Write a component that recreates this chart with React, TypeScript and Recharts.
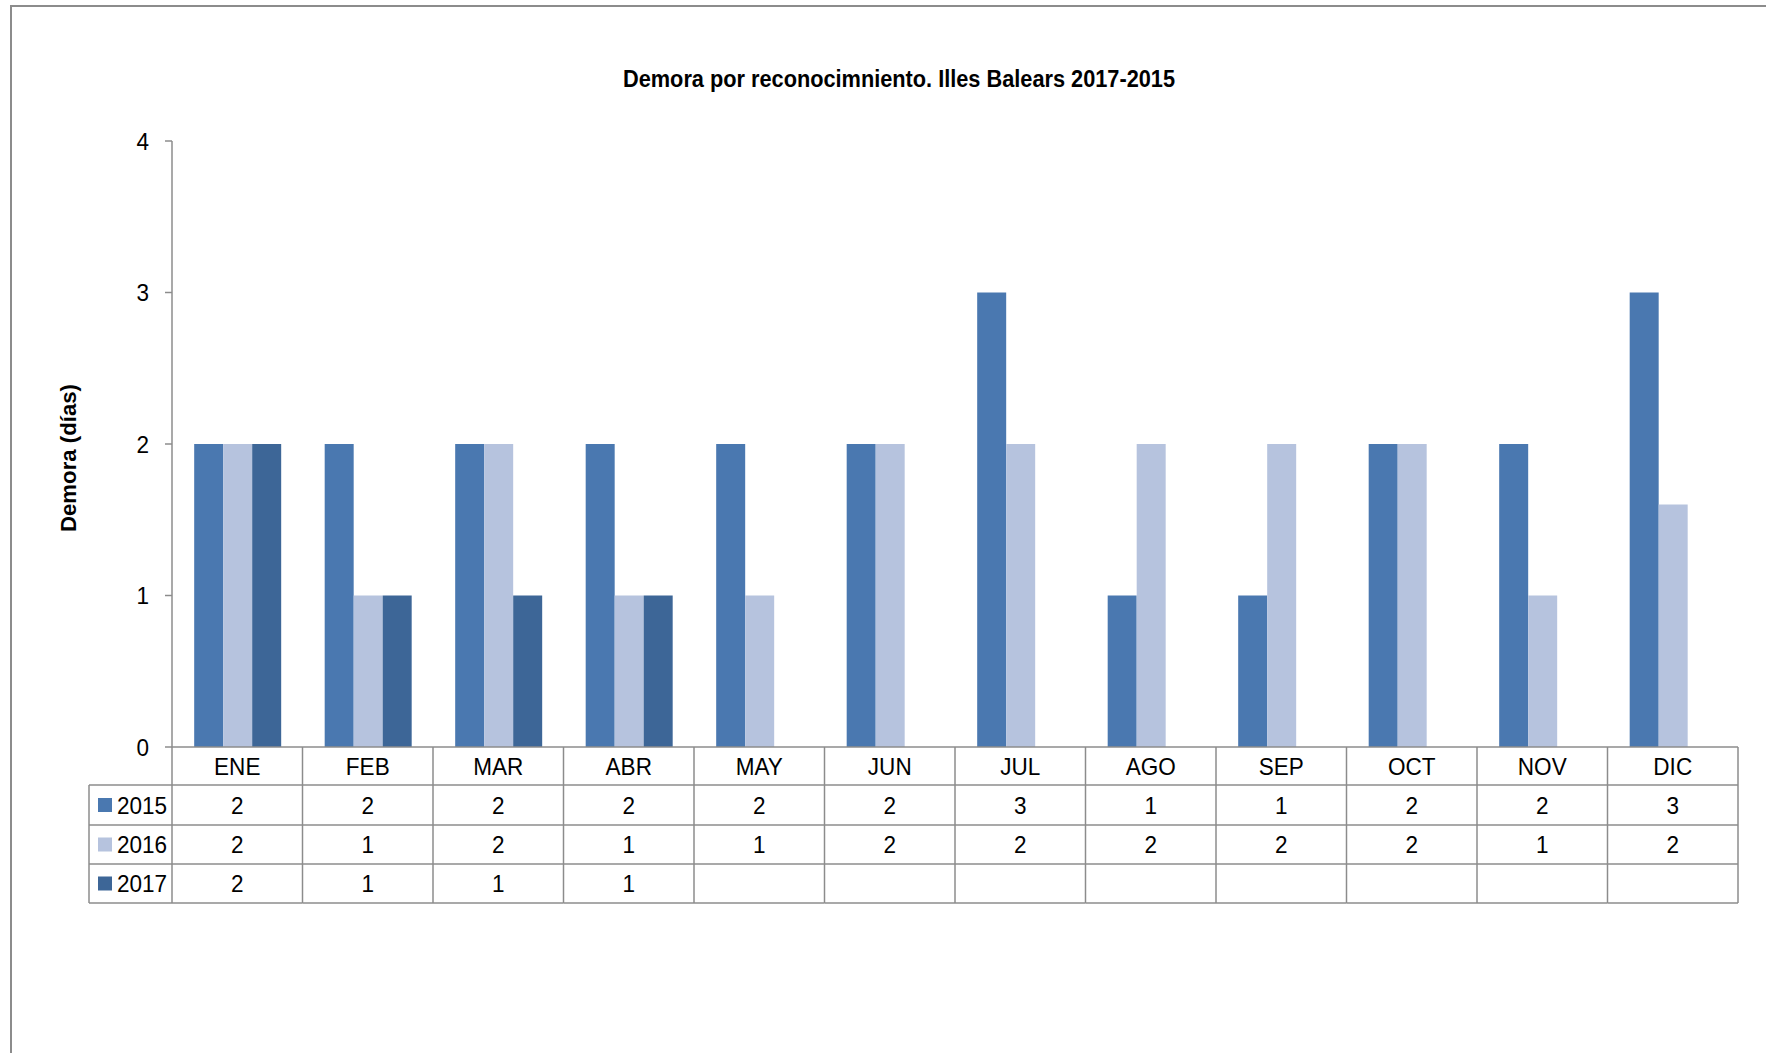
import { BarChart, Bar, XAxis, YAxis } from 'recharts'

const months = ['ENE', 'FEB', 'MAR', 'ABR', 'MAY', 'JUN', 'JUL', 'AGO', 'SEP', 'OCT', 'NOV', 'DIC']
const s2015 = [2, 2, 2, 2, 2, 2, 3, 1, 1, 2, 2, 3]
const s2016 = [2, 1, 2, 1, 1, 2, 2, 2, 2, 2, 1, 1.6]
const s2017: (number | null)[] = [2, 1, 1, 1, null, null, null, null, null, null, null, null]
const yTicks = [0, 1, 2, 3, 4]

const series = [
  { key: 'y2015', name: '2015', values: s2015, color: '#4A78B0' },
  { key: 'y2016', name: '2016', values: s2016, color: '#B6C3DE' },
  { key: 'y2017', name: '2017', values: s2017, color: '#3D6697' },
]

const data = months.map((m, i) => ({ month: m, y2015: s2015[i], y2016: s2016[i], y2017: s2017[i] }))

const W = 1766
const H = 1053
const Y_W = 60
const M = { top: 141, right: 28, bottom: 150, left: 112 }
const X_H = 156
const band = (W - M.right - M.left - Y_W) / months.length
const rowEdges = [0, 38, 78, 117, 156]
const FONT = "'Liberation Sans', Arial, sans-serif"
const LINE = '#8c8c8c'
const SX = 0.92 // narrow look

// narrow text: squeeze horizontally around its anchor
function NText({ x, y, anchor = 'middle', size = 24.5, children }: any) {
  return (
    <text transform={`translate(${x},${y}) scale(${SX},1)`} dy="0.36em" textAnchor={anchor} fontSize={size} fontFamily={FONT} fill="#000">
      {children}
    </text>
  )
}

function TableTick(props: any) {
  const { x, y, payload, index } = props
  const l = x - band / 2
  const r = x + band / 2
  const mid = (a: number, b: number) => y + (rowEdges[a] + rowEdges[b]) / 2
  return (
    <g>
      {index === 0 && (
        <g>
          <line x1={l} x2={l} y1={y} y2={y + rowEdges[4]} stroke={LINE} strokeWidth={1.5} />
          <line x1={l - 83} x2={l - 83} y1={y + rowEdges[1]} y2={y + rowEdges[4]} stroke={LINE} strokeWidth={1.5} />
          {rowEdges.slice(1).map((e, k) => (
            <line key={k} x1={l - 83} x2={l} y1={y + e} y2={y + e} stroke={LINE} strokeWidth={1.5} />
          ))}
          {series.map((s, k) => (
            <g key={s.key}>
              <rect x={l - 74} y={mid(k + 1, k + 2) - 7} width={14} height={14} fill={s.color} />
              <NText x={l - 55} y={mid(k + 1, k + 2)} anchor="start">{s.name}</NText>
            </g>
          ))}
        </g>
      )}
      <line x1={r} x2={r} y1={y} y2={y + rowEdges[4]} stroke={LINE} strokeWidth={1.5} />
      {rowEdges.slice(1).map((e, k) => (
        <line key={k} x1={l} x2={r} y1={y + e} y2={y + e} stroke={LINE} strokeWidth={1.5} />
      ))}
      <NText x={x} y={mid(0, 1)}>{payload.value}</NText>
      {series.map((s, k) => {
        const v = s.values[index]
        return v == null ? null : (
          <NText key={s.key} x={x} y={mid(k + 1, k + 2)}>{Math.round(v)}</NText>
        )
      })}
    </g>
  )
}

function YTick(props: any) {
  const { x, y, payload } = props
  return <NText x={x} y={y} anchor="end">{payload.value}</NText>
}

export default function App() {
  return (
    <div style={{ position: 'fixed', left: 0, top: 0, width: W, height: H, overflow: 'hidden', background: '#fff' }}>
      <div style={{ position: 'absolute', left: 10, top: 5, width: 2000, height: 2000, border: `2px solid ${LINE}` }} />
      <div style={{ position: 'absolute', left: 0, top: 0 }}>
        <BarChart width={W} height={H} data={data} margin={M} barGap={0} barCategoryGap="17%">
          <XAxis
            dataKey="month"
            height={X_H}
            interval={0}
            tickLine={false}
            tickSize={0}
            tickMargin={0}
            axisLine={{ stroke: LINE, strokeWidth: 1.5 }}
            tick={<TableTick />}
          />
          <YAxis
            width={Y_W}
            domain={[0, 4]}
            ticks={yTicks}
            interval={0}
            tickSize={7}
            tickMargin={16}
            axisLine={{ stroke: LINE, strokeWidth: 1.5 }}
            tickLine={{ stroke: LINE, strokeWidth: 1.5 }}
            tick={<YTick />}
          />
          {series.map(s => (
            <Bar key={s.key} dataKey={s.key} name={s.name} fill={s.color} isAnimationActive={false} />
          ))}
        </BarChart>
      </div>
      <svg width={W} height={H} style={{ position: 'absolute', left: 0, top: 0, pointerEvents: 'none' }}>
        <text x={899} y={87} textAnchor="middle" fontFamily={FONT} fontWeight="bold" fontSize={23} textLength={552} lengthAdjust="spacingAndGlyphs" fill="#000">
          Demora por reconocimniento. Illes Balears 2017-2015
        </text>
        <text transform="translate(76,458) rotate(-90)" textAnchor="middle" fontFamily={FONT} fontWeight="bold" fontSize={22} textLength={148} lengthAdjust="spacingAndGlyphs" fill="#000">
          Demora (días)
        </text>
      </svg>
    </div>
  )
}
